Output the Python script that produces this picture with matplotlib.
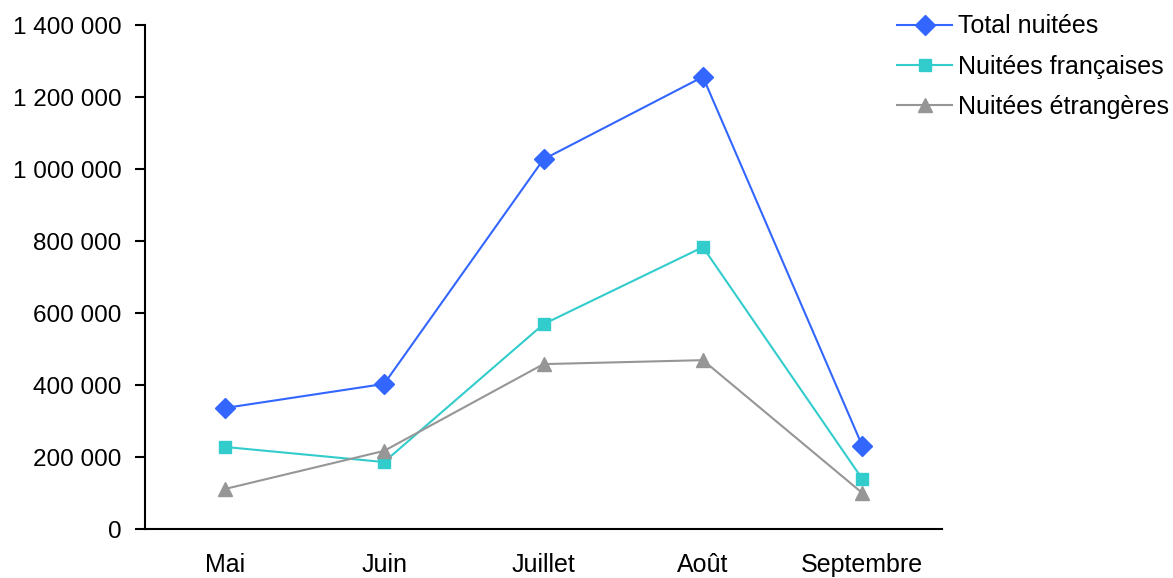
import numpy as np
import matplotlib.pyplot as plt
from matplotlib.ticker import FuncFormatter

plt.rcParams['font.family'] = ['Liberation Sans', 'DejaVu Sans']

mois = ['Mai', 'Juin', 'Juillet', 'Août', 'Septembre']
total = [336000, 403000, 1027000, 1256000, 231000]
francaises = [228000, 186000, 569000, 783000, 139000]
etrangeres = [111000, 217000, 458000, 469000, 100000]

fig = plt.figure(figsize=(11.73, 5.78), dpi=100)
ax = fig.add_axes([145/1173, 1 - 529/578, (942-145)/1173, (529-25)/578])

x = np.arange(len(mois))
ax.plot(x, total, marker='D', color='#3366ff', markersize=10, linewidth=1.5, label='Total nuitées')
ax.plot(x, francaises, marker='s', color='#33cccc', markersize=9, linewidth=1.5, label='Nuitées françaises')
ax.plot(x, etrangeres, marker='^', color='#969696', markersize=10, linewidth=1.5, label='Nuitées étrangères')

ax.set_xlim(-0.5, len(mois) - 0.5)
ax.set_ylim(0, 1400000)
ax.set_yticks(np.arange(0, 1400001, 200000))
ax.yaxis.set_major_formatter(FuncFormatter(lambda v, p: f'{int(v):,}'.replace(',', ' ')))
ax.set_xticks(x)
ax.set_xticklabels(mois)

ax.spines['top'].set_visible(False)
ax.spines['right'].set_visible(False)
ax.spines['left'].set_linewidth(1.5)
ax.spines['bottom'].set_linewidth(1.5)
ax.tick_params(axis='y', labelsize=17.5, length=7, width=1.5, pad=10)
ax.tick_params(axis='x', labelsize=18, length=0, pad=17)

ax.legend(loc='upper left', bbox_to_anchor=(0.931, 1.041), frameon=False, fontsize=18,
          handlelength=2.2, handletextpad=0.25, labelspacing=0.65, borderaxespad=0)

fig.savefig('out.png', dpi=100)
